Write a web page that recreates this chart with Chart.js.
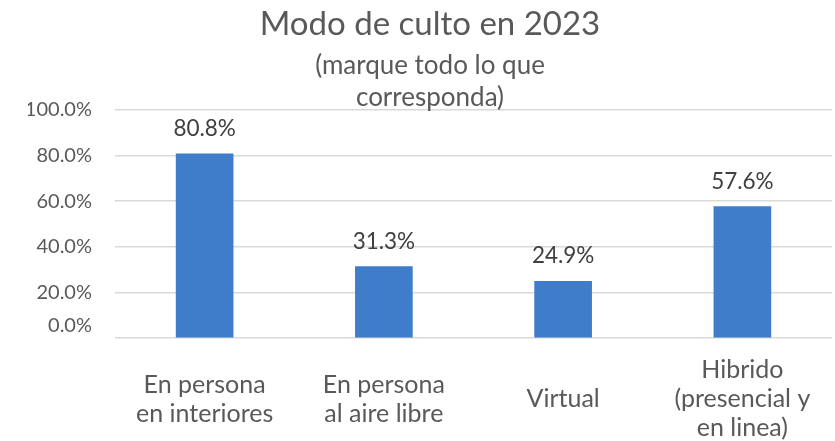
<!DOCTYPE html>
<html>
<head>
<meta charset="utf-8">
<script src="https://cdn.jsdelivr.net/npm/chart.js@4"></script>
<style>
  html, body { margin: 0; padding: 0; background: #fff; }
  #wrap { width: 835px; height: 441px; }
</style>
</head>
<body>
<div id="wrap"><canvas id="cultoChart"></canvas></div>
<script>
const categories = [
  ["En persona", "en interiores"],
  ["En persona", "al aire libre"],
  ["Virtual"],
  ["Hibrido", "(presencial y", "en linea)"],
];
const values = [80.8, 31.3, 24.9, 57.6];
const yTicks = [0, 20, 40, 60, 80, 100];

const textGray = "#595959";
const barBlue = "#3F7CC9";
const gridGray = "#D9D9D9";
const fontFamily = "Lato, 'Open Sans', sans-serif";

const valueLabels = {
  id: "valueLabels",
  afterDatasetsDraw(chart) {
    const ctx = chart.ctx;
    const meta = chart.getDatasetMeta(0);
    ctx.save();
    ctx.font = `22.5px ${fontFamily}`;
    ctx.fillStyle = "#404040";
    ctx.textAlign = "center";
    ctx.textBaseline = "alphabetic";
    meta.data.forEach((bar, i) => {
      ctx.fillText(values[i].toFixed(1) + "%", bar.x, bar.y - 18);
    });
    ctx.restore();
  },
};

new Chart(document.getElementById("cultoChart"), {
  type: "bar",
  data: {
    labels: categories,
    datasets: [
      {
        data: values,
        backgroundColor: barBlue,
        barThickness: 57,
      },
    ],
  },
  options: {
    responsive: true,
    maintainAspectRatio: false,
    animation: false,
    layout: { padding: { left: 28, right: 3, top: 0, bottom: 0 } },
    plugins: {
      legend: { display: false },
      tooltip: { enabled: false },
      title: {
        display: true,
        text: "Modo de culto en 2023",
        color: textGray,
        font: { family: fontFamily, size: 33, weight: "normal", lineHeight: 1.0 },
        padding: { top: 8, bottom: 9 },
      },
      subtitle: {
        display: true,
        text: ["(marque todo lo que", "corresponda)"],
        color: textGray,
        font: { family: fontFamily, size: 26, weight: "normal", lineHeight: 1.23 },
        padding: { top: 0, bottom: -4 },
      },
    },
    scales: {
      x: {
        afterFit: (scale) => {
          scale.height = 103;
        },
        ticks: {
          autoSkip: false,
          maxRotation: 0,
          color: textGray,
          padding: 24,
          crossAlign: "center",
          font: { family: fontFamily, size: 25, lineHeight: 1.16 },
        },
        grid: { display: false },
        border: { display: false },
      },
      y: {
        min: 0,
        max: 100,
        afterBuildTicks: (scale) => {
          scale.ticks = yTicks.map((v) => ({ value: v }));
        },
        afterFit: (scale) => {
          scale.width = 87;
        },
        ticks: {
          autoSkip: false,
          color: textGray,
          padding: 23,
          font: { family: fontFamily, size: 20, lineHeight: 1.2 },
          // the 0.0% label sits a little above the baseline in the original
          callback: (v) => (v === 0 ? [v.toFixed(1) + "%", ""] : v.toFixed(1) + "%"),
        },
        grid: { color: gridGray, lineWidth: 1.5, drawTicks: false },
        border: { display: false },
      },
    },
  },
  plugins: [valueLabels],
});
</script>
</body>
</html>
